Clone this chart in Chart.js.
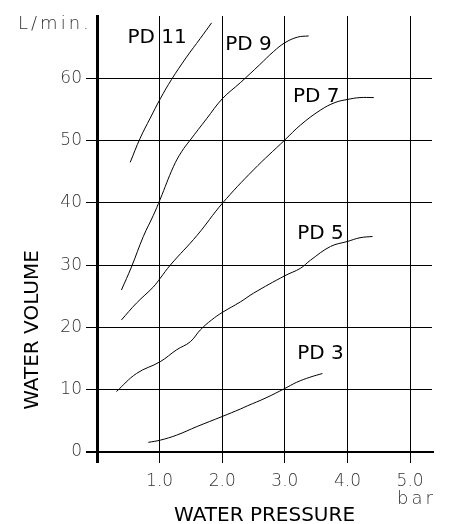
<!DOCTYPE html>
<html>
<head>
<meta charset="utf-8">
<script src="https://cdn.jsdelivr.net/npm/chart.js@4/dist/chart.umd.min.js"></script>
<style>
html,body{margin:0;padding:0;background:#fff;}
#wrap{width:451px;height:524px;}
</style>
</head>
<body>
<div id="wrap"><canvas id="c" width="451" height="524"></canvas></div>
<script>
// ---- data ----
const seriesNames = ["PD 11", "PD 9", "PD 7", "PD 5", "PD 3"];
const pd11X = [0.53, 0.69, 0.85, 1.01, 1.19, 1.43, 1.65, 1.83];
const pd11Y = [46.5, 50.4, 53.6, 56.7, 59.8, 63.4, 66.4, 68.9];
const pd9X  = [0.39, 0.55, 0.74, 0.90, 1.01, 1.22, 1.35, 1.49, 1.75, 2.00, 2.29, 2.60, 2.82, 3.00, 3.20, 3.38];
const pd9Y  = [26.0, 29.7, 34.6, 38.0, 40.6, 45.8, 48.2, 50.1, 53.5, 56.7, 59.3, 62.2, 64.3, 65.7, 66.6, 66.8];
const pd7X  = [0.39, 0.63, 0.90, 1.01, 1.17, 1.60, 2.00, 2.50, 3.00, 3.25, 3.57, 3.80, 4.00, 4.20, 4.42];
const pd7Y  = [21.2, 23.9, 26.5, 27.9, 30.0, 34.8, 39.9, 45.3, 50.1, 52.5, 54.9, 56.1, 56.6, 56.9, 56.9];
const pd5X  = [0.31, 0.63, 1.01, 1.27, 1.49, 1.65, 1.83, 2.00, 2.29, 2.50, 3.00, 3.25, 3.41, 3.73, 4.00, 4.20, 4.40];
const pd5Y  = [9.7, 12.6, 14.5, 16.4, 17.7, 19.6, 21.2, 22.4, 24.1, 25.5, 28.3, 29.5, 30.8, 33.0, 33.8, 34.4, 34.6];
const pd3X  = [0.82, 1.01, 1.27, 1.60, 2.00, 2.29, 2.40, 2.70, 3.00, 3.19, 3.40, 3.60];
const pd3Y  = [1.55, 1.9, 2.7, 4.1, 5.7, 6.9, 7.4, 8.7, 10.2, 11.2, 12.0, 12.6];
const xTicks = [0, 1, 2, 3, 4, 5];
const xTickLabels = ["", "1.0", "2.0", "3.0", "4.0", "5.0"];
const yTicks = [0, 10, 20, 30, 40, 50, 60];
const yTickLabels = ["0", "10", "20", "30", "40", "50", "60"];
// label anchors (data coordinates)
const labelX = [0.96, 2.42, 3.50, 3.57, 3.57];
const labelY = [66.5, 65.4, 57.1, 35.0, 15.7];

const xs = [pd11X, pd9X, pd7X, pd5X, pd3X];
const ys = [pd11Y, pd9Y, pd7Y, pd5Y, pd3Y];

const datasets = seriesNames.map((n, i) => ({
  label: n,
  data: xs[i].map((x, j) => ({x: x, y: ys[i][j]})),
  showLine: true,
  borderColor: '#000',
  borderWidth: 1,
  pointRadius: 0,
  tension: 0.4,
  fill: false
}));

const tickFont = {family: "'DejaVu Sans', sans-serif", size: 17, weight: 200};

const textPlugin = {
  id: 'texts',
  afterDraw(chart) {
    const ctx = chart.ctx;
    const sx = chart.scales.x, sy = chart.scales.y;
    ctx.save();
    ctx.fillStyle = '#000';
    ctx.font = "20px 'DejaVu Sans', sans-serif";
    ctx.textAlign = 'center';
    ctx.textBaseline = 'middle';
    seriesNames.forEach((n, i) => {
      ctx.fillText(n, sx.getPixelForValue(labelX[i]), sy.getPixelForValue(labelY[i]));
    });
    // axis titles
    ctx.fillText('WATER PRESSURE', (chart.chartArea.left + chart.chartArea.right) / 2, 516);
    ctx.save();
    ctx.translate(33, 330);
    ctx.rotate(-Math.PI / 2);
    ctx.fillText('WATER VOLUME', 0, 0);
    ctx.restore();
    // units
    ctx.fillStyle = '#333';
    ctx.font = "200 18px 'DejaVu Sans', sans-serif";
    ctx.letterSpacing = '3px';
    ctx.textAlign = 'left';
    ctx.fillText('L/min.', 18, 24);
    ctx.fillText('bar', 397, 499);
    ctx.restore();
  }
};

new Chart(document.getElementById('c'), {
  type: 'scatter',
  data: {datasets},
  options: {
    responsive: false,
    animation: false,
    devicePixelRatio: 1,
    layout: {padding: {top: 16, right: 19, left: 0, bottom: 0}},
    plugins: {legend: {display: false}, tooltip: {enabled: false}},
    scales: {
      x: {
        type: 'linear', min: 0, max: 5.35,
        afterBuildTicks: s => { s.ticks = xTicks.map(v => ({value: v})); },
        afterFit: s => { s.height = 72; },
        grid: {color: '#000', lineWidth: c => (c.tick && c.tick.value === 0 ? 3 : 1), tickLength: 11, drawTicks: true},
        border: {display: true, color: '#000', width: 2},
        ticks: {
          color: '#333', font: tickFont, padding: 8, maxRotation: 0, autoSkip: false,
          callback: (v) => { const k = xTicks.indexOf(v); return k >= 0 ? xTickLabels[k] : ''; }
        }
      },
      y: {
        type: 'linear', min: 0, max: 70,
        afterBuildTicks: s => { s.ticks = yTicks.map(v => ({value: v})); },
        afterFit: s => { s.width = 97; },
        grid: {color: '#000', lineWidth: c => (c.tick && c.tick.value === 0 ? 2 : 1), tickLength: 11, drawTicks: true},
        border: {display: true, color: '#000', width: 3},
        ticks: {
          color: '#333', font: tickFont, padding: 4, autoSkip: false,
          callback: (v) => { const k = yTicks.indexOf(v); return k >= 0 ? yTickLabels[k] : ''; }
        }
      }
    }
  },
  plugins: [textPlugin]
});
</script>
</body>
</html>
